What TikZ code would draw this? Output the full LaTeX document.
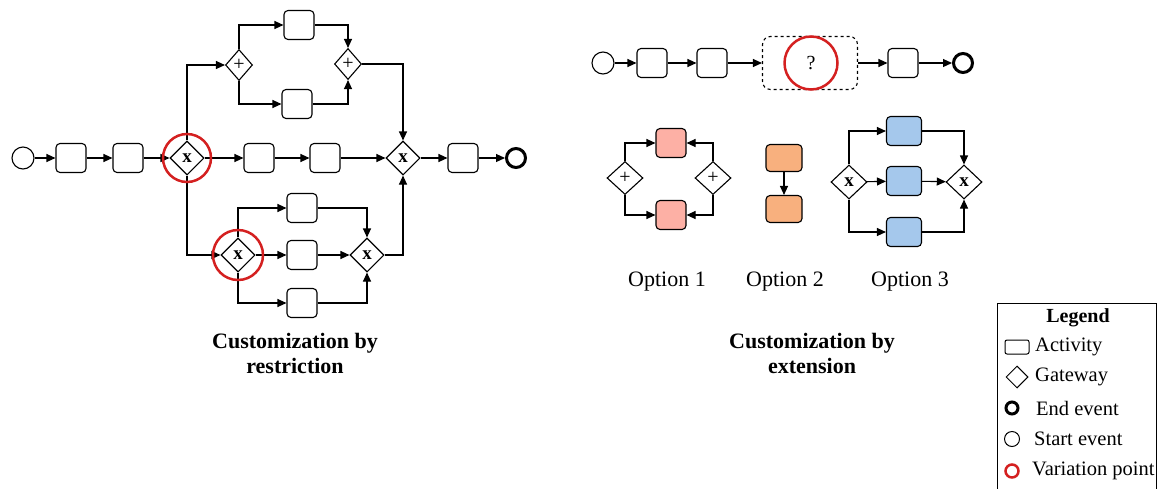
\documentclass[tikz,border=0pt]{standalone}
\usepackage{fontspec}
\setmainfont{Liberation Serif}
\usetikzlibrary{shapes.geometric,arrows.meta}

\definecolor{vpred}{HTML}{D42020}
\definecolor{optred}{HTML}{FDB0A5}
\definecolor{optorange}{HTML}{F8B07E}
\definecolor{optblue}{HTML}{A5C8EC}

\tikzset{
  act/.style={draw, rounded corners=4pt, line width=1.1pt, minimum width=30pt, minimum height=29pt, inner sep=0pt},
  gw/.style={draw, diamond, line width=1.1pt, minimum width=34pt, minimum height=34pt, inner sep=0pt},
  smallgw/.style={gw, minimum width=27pt, minimum height=31pt},
  startev/.style={draw, circle, line width=1.1pt, minimum size=22pt, inner sep=0pt},
  endev/.style={draw, circle, line width=3pt, minimum size=19pt, inner sep=0pt},
  varpt/.style={draw=vpred, circle, line width=2.5pt, inner sep=0pt},
  flow/.style={line width=1.1pt, -{Triangle[length=9pt,width=8pt]}},
  xmark/.style={font=\fontsize{19}{19}\selectfont\bfseries},
  pmark/.style={font=\fontsize{20}{20}\selectfont},
  caption/.style={font=\fontsize{22}{25}\selectfont\bfseries, align=center},
  optlabel/.style={font=\fontsize{22}{25}\selectfont},
  legtext/.style={font=\fontsize{20.5}{21}\selectfont, anchor=west, inner sep=0pt}
}

\begin{document}
\begin{tikzpicture}[x=1pt, y=-1pt]
  \useasboundingbox (0,0) rectangle (1158,488);

  \node[startev] (start) at (23,158) {};
  \node[act] (a1) at (71,158) {};
  \node[act] (a2) at (128,158) {};
  \node[gw, xmark] (g1) at (187,158) {x};
  \node[act] (a3) at (259,158) {};
  \node[act] (a4) at (325,158) {};
  \node[gw, xmark] (g2) at (403,158) {x};
  \node[act] (a5) at (463,158) {};
  \node[endev] (end) at (516,158) {};

  \node[smallgw, pmark] (p1) at (239,65) {+};
  \node[act] (t1) at (299,25) {};
  \node[act] (t2) at (297,104) {};
  \node[smallgw, pmark] (p2) at (348,64) {+};

  \node[gw, xmark] (g3) at (238,255) {x};
  \node[act] (u1) at (302,208) {};
  \node[act] (u2) at (302,255) {};
  \node[act] (u3) at (302,303) {};
  \node[gw, xmark] (g4) at (367,255) {x};

  \draw[flow] (start) -- (a1);
  \draw[flow] (a1) -- (a2);
  \draw[flow] (a2) -- (g1);
  \draw[flow] (g1) -- (a3);
  \draw[flow] (a3) -- (a4);
  \draw[flow] (a4) -- (g2);
  \draw[flow] (g2) -- (a5);
  \draw[flow] (a5) -- (end);

  \draw[flow] (g1.north) |- (p1.west);
  \draw[flow] (p1.north) |- (t1.west);
  \draw[flow] (t1.east) -| (p2.north);
  \draw[flow] (p1.south) |- (t2.west);
  \draw[flow] (t2.east) -| (p2.south);
  \draw[flow] (p2.east) -| (g2.north);

  \draw[flow] (g1.south) |- (g3.west);
  \draw[flow] (g3.north) |- (u1.west);
  \draw[flow] (u1.east) -| (g4.north);
  \draw[flow] (g3) -- (u2);
  \draw[flow] (u2) -- (g4);
  \draw[flow] (g3.south) |- (u3.west);
  \draw[flow] (u3.east) -| (g4.south);
  \draw[flow] (g4.east) -| (g2.south);

  \node[varpt, minimum size=48pt] (vp1) at (g1) {};
  \node[varpt, minimum size=50pt] (vp2) at (g3) {};

  \node[caption] (cap1) at (295,353) {Customization by\\restriction};

  \node[startev] (start2) at (603,63) {};
  \node[act] (b1) at (652,63) {};
  \node[act] (b2) at (712,63) {};
  \node[draw, dashed, rounded corners=8pt, line width=1.1pt, minimum width=95pt, minimum height=53pt] (hole) at (810,63) {};
  \node[varpt, minimum size=53pt, font=\fontsize{20}{20}\selectfont] (vp3) at (811,63) {?};
  \node[act] (b3) at (903,63) {};
  \node[endev] (end2) at (963,63) {};

  \draw[flow] (start2) -- (b1);
  \draw[flow] (b1) -- (b2);
  \draw[flow] (b2.east) -- (hole.west);
  \draw[flow] (hole.east) -- (b3.west);
  \draw[flow] (b3) -- (end2);

  \node[gw, pmark, minimum width=36pt, minimum height=33pt] (o1l) at (625,178) {+};
  \node[gw, pmark, minimum width=36pt, minimum height=33pt] (o1r) at (713,178) {+};
  \node[act, fill=optred] (r1) at (671,143) {};
  \node[act, fill=optred] (r2) at (671,215) {};
  \draw[flow] (o1l.north) |- (r1.west);
  \draw[flow] (o1r.north) |- (r1.east);
  \draw[flow] (o1l.south) |- (r2.west);
  \draw[flow] (o1r.south) |- (r2.east);

  \node[act, fill=optorange, minimum width=36pt, minimum height=27pt] (q1) at (784,158) {};
  \node[act, fill=optorange, minimum width=36pt, minimum height=27pt] (q2) at (784,209) {};
  \draw[flow] (q1) -- (q2);

  \node[gw, xmark, minimum width=36pt, minimum height=34pt] (x1) at (849,182) {x};
  \node[act, fill=optblue, minimum width=35pt] (c1) at (904,131) {};
  \node[act, fill=optblue, minimum width=35pt] (c2) at (904,181) {};
  \node[act, fill=optblue, minimum width=35pt] (c3) at (904,232) {};
  \node[gw, xmark, minimum width=36pt, minimum height=34pt] (x2) at (964,182) {x};
  \draw[flow] (x1.north) |- (c1.west);
  \draw[flow] (c1.east) -| (x2.north);
  \draw[flow] (x1) -- (c2);
  \draw[flow] (c2) -- (x2);
  \draw[flow] (x1.south) |- (c3.west);
  \draw[flow] (c3.east) -| (x2.south);

  \node[optlabel] (opt1) at (667,282) {Option 1};
  \node[optlabel] (opt2) at (785,282) {Option 2};
  \node[optlabel] (opt3) at (910,282) {Option 3};

  \node[caption] (cap2) at (812,353) {Customization by\\extension};

  \draw[line width=1pt] (997,303) rectangle (1156,495);
  \node[font=\fontsize{20}{20}\selectfont\bfseries] (leg) at (1078,318) {Legend};
  \node[draw, rounded corners=2pt, line width=1pt, minimum width=24pt, minimum height=14pt, inner sep=0pt] (legact) at (1017,347) {};
  \node[legtext] (legacttext) at (1035,347) {Activity};
  \node[draw, diamond, line width=1pt, minimum size=22pt, inner sep=0pt] (leggw) at (1017,377) {};
  \node[legtext] (leggwtext) at (1035,377) {Gateway};
  \node[draw, circle, line width=3pt, minimum size=12pt, inner sep=0pt] (legend) at (1012,408) {};
  \node[legtext] (legendtext) at (1036,408) {End event};
  \node[draw, circle, line width=1pt, minimum size=15pt, inner sep=0pt] (legstart) at (1012,439) {};
  \node[legtext] (legstarttext) at (1034,439) {Start event};
  \node[draw=vpred, circle, line width=2.5pt, minimum size=13pt, inner sep=0pt] (legvp) at (1012,471) {};
  \node[legtext] (legvptext) at (1032,471) {Variation point};
\end{tikzpicture}
\end{document}
